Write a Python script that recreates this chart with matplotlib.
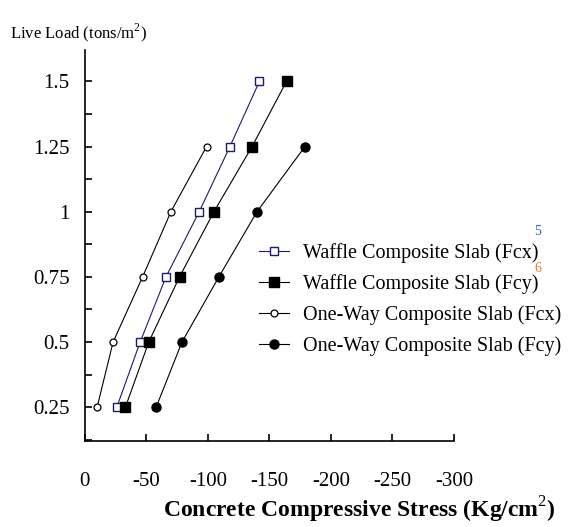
import matplotlib
matplotlib.use("Agg")
import matplotlib.pyplot as plt
from matplotlib.ticker import MultipleLocator

plt.rcParams["font.family"] = ["Liberation Serif", "DejaVu Serif"]
plt.rcParams["axes.unicode_minus"] = False
plt.rcParams["mathtext.fontset"] = "custom"
plt.rcParams["mathtext.rm"] = "Liberation Serif"

# live load levels (tons/m2)
loads = [0.25, 0.5, 0.75, 1.0, 1.25, 1.5]
loads_oneway = [0.25, 0.5, 0.75, 1.0, 1.25]

# concrete compressive stress (Kg/cm2)
waffle_fcx = [-26, -45, -66, -93, -118, -142]
waffle_fcy = [-33, -52, -77, -105, -136, -164]
oneway_fcx = [-10, -23, -47, -70, -99]
oneway_fcy = [-58, -79, -109, -140, -179]

labels = [
    "Waffle Composite Slab (Fcx)",
    "Waffle Composite Slab (Fcy)",
    "One-Way Composite Slab (Fcx)",
    "One-Way Composite Slab (Fcy)",
]

fig = plt.figure(figsize=(5.73, 5.27), dpi=100)
ax = fig.add_axes([0.148, 0.163, 0.644, 0.742])

blue = "#1a1a7a"
ax.plot(waffle_fcx, loads, "-s", color=blue, lw=0.8, ms=5.5,
        mfc="white", mec=blue, mew=1.0, label=labels[0])
ax.plot(waffle_fcy, loads, "-s", color="black", lw=0.8, ms=6.5,
        mfc="black", mec="black", label=labels[1])
ax.plot(oneway_fcx, loads_oneway, "-o", color="black", lw=0.8, ms=5,
        mfc="white", mec="black", mew=0.9, label=labels[2])
ax.plot(oneway_fcy, loads_oneway, "-o", color="black", lw=0.8, ms=6.5,
        mfc="black", mec="black", label=labels[3])

ax.set_xlim(0, -300)
ax.set_ylim(0.12, 1.62)
ax.xaxis.set_major_locator(MultipleLocator(50))
ax.set_yticks(loads)
ax.set_yticklabels(["0.25", "0.5", "0.75", "1", "1.25", "1.5"])
ax.yaxis.set_minor_locator(MultipleLocator(0.125))

for side in ["top", "right"]:
    ax.spines[side].set_visible(False)
for side in ["left", "bottom"]:
    ax.spines[side].set_linewidth(1.2)

ax.tick_params(axis="both", which="both", direction="in", labelsize=15, width=1.2)
ax.tick_params(axis="both", which="major", length=5)
ax.tick_params(axis="y", which="minor", length=5)
ax.tick_params(axis="x", pad=22)
ax.tick_params(axis="y", pad=11)

fig.text(0.017, 0.937, "Live Load (tons/m$^2$)", fontsize=12, va="center", ha="left")
fig.text(0.628, 0.032, "Concrete Compressive Stress (Kg/cm$^2$)",
         fontsize=17, fontweight="bold", va="center", ha="center")

ax.legend(loc="upper left", bbox_to_anchor=(0.452, 0.538), bbox_transform=fig.transFigure,
          frameon=False, fontsize=14.5, handlelength=1.5, handletextpad=0.7,
          labelspacing=0.55, borderpad=0, borderaxespad=0)

fig.text(0.939, 0.56, "5", fontsize=10, color="#3060c0", ha="center", va="center")
fig.text(0.939, 0.49, "6", fontsize=10, color="#e08020", ha="center", va="center")

fig.savefig("out.png", dpi=100)
